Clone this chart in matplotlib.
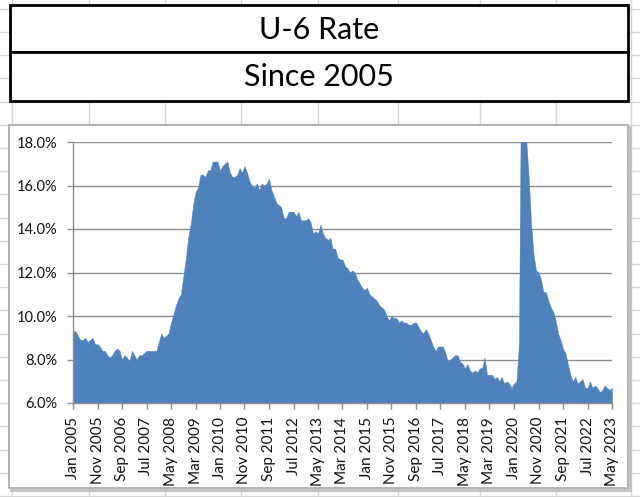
import matplotlib
matplotlib.use("Agg")
import matplotlib.pyplot as plt
from matplotlib.patches import Rectangle
import numpy as np

# ---------------- data (U-6 rate, monthly, %) ----------------
u6_2005 = [9.3, 9.3, 9.1, 8.9, 8.9, 9.0, 8.8, 8.9, 9.0, 8.7, 8.7, 8.6]
u6_2006 = [8.4, 8.4, 8.2, 8.1, 8.2, 8.4, 8.5, 8.4, 8.0, 8.2, 8.1, 7.9]
u6_2007 = [8.4, 8.2, 8.0, 8.2, 8.2, 8.3, 8.4, 8.4, 8.4, 8.4, 8.4, 8.8]
u6_2008 = [9.2, 9.0, 9.1, 9.2, 9.7, 10.1, 10.5, 10.8, 11.0, 11.8, 12.6, 13.6]
u6_2009 = [14.2, 15.1, 15.7, 15.9, 16.5, 16.5, 16.4, 16.7, 16.7, 17.1, 17.1, 17.1]
u6_2010 = [16.7, 16.9, 17.0, 17.1, 16.6, 16.4, 16.4, 16.5, 16.8, 16.6, 16.9, 16.6]
u6_2011 = [16.2, 16.0, 15.9, 16.1, 15.8, 16.1, 16.0, 16.1, 16.3, 15.8, 15.5, 15.2]
u6_2012 = [15.1, 15.0, 14.5, 14.5, 14.8, 14.8, 14.8, 14.6, 14.8, 14.4, 14.4, 14.4]
u6_2013 = [14.5, 14.3, 13.8, 13.9, 13.8, 14.2, 13.8, 13.6, 13.5, 13.6, 13.1, 13.1]
u6_2014 = [12.7, 12.6, 12.6, 12.3, 12.2, 12.0, 12.1, 12.0, 11.7, 11.5, 11.3, 11.2]
u6_2015 = [11.3, 11.0, 10.9, 10.8, 10.7, 10.5, 10.4, 10.3, 10.0, 9.8, 10.0, 9.9]
u6_2016 = [9.9, 9.7, 9.8, 9.7, 9.7, 9.6, 9.6, 9.7, 9.7, 9.5, 9.3, 9.2]
u6_2017 = [9.4, 9.2, 8.9, 8.6, 8.4, 8.6, 8.6, 8.6, 8.3, 7.9, 8.0, 8.1]
u6_2018 = [8.2, 8.2, 7.9, 7.8, 7.6, 7.8, 7.5, 7.4, 7.5, 7.4, 7.6, 7.6]
u6_2019 = [8.1, 7.3, 7.3, 7.3, 7.1, 7.2, 7.0, 7.2, 6.9, 7.0, 6.9, 6.7]
u6_2020 = [6.9, 7.0, 8.7, 22.9, 21.1, 18.1, 16.4, 14.2, 12.8, 12.1, 12.0, 11.7]
u6_2021 = [11.1, 11.1, 10.7, 10.4, 10.2, 9.8, 9.2, 8.9, 8.5, 8.3, 7.8, 7.3]
u6_2022 = [7.0, 7.2, 6.9, 7.0, 7.1, 6.7, 6.7, 7.0, 6.7, 6.8, 6.7, 6.5]
u6_2023 = [6.6, 6.8, 6.7, 6.6, 6.7]

u6_rate = (u6_2005 + u6_2006 + u6_2007 + u6_2008 + u6_2009 + u6_2010 +
           u6_2011 + u6_2012 + u6_2013 + u6_2014 + u6_2015 + u6_2016 +
           u6_2017 + u6_2018 + u6_2019 + u6_2020 + u6_2021 + u6_2022 + u6_2023)

x_tick_labels = ["Jan 2005", "Nov 2005", "Sep 2006", "Jul 2007", "May 2008",
                 "Mar 2009", "Jan 2010", "Nov 2010", "Sep 2011", "Jul 2012",
                 "May 2013", "Mar 2014", "Jan 2015", "Nov 2015", "Sep 2016",
                 "Jul 2017", "May 2018", "Mar 2019", "Jan 2020", "Nov 2020",
                 "Sep 2021", "Jul 2022", "May 2023"]
y_ticks = [6, 8, 10, 12, 14, 16, 18]

title_1 = "U-6 Rate"
title_2 = "Since 2005"

# ---------------- figure ----------------
FONT = ["Lato", "DejaVu Sans"]
plt.rcParams["font.family"] = FONT

W, H = 640, 497
fig = plt.figure(figsize=(W / 100, H / 100), dpi=100)

# spreadsheet background (pixel coordinates)
bg = fig.add_axes([0, 0, 1, 1], zorder=0)
bg.set_xlim(0, W)
bg.set_ylim(H, 0)
bg.axis("off")
grid_c = "#d6d6d6"
for gx in [12, 89, 164.5, 241, 317.5, 398, 479.5, 556, 631]:
    bg.axvline(gx, color=grid_c, lw=1)
for gy in np.arange(8.8, H, 23.2):
    bg.axhline(gy, color=grid_c, lw=1)

# title boxes
bg.add_patch(Rectangle((10, 5), 618, 47, facecolor="white", edgecolor="black", lw=2, zorder=3))
bg.add_patch(Rectangle((10, 52), 618, 48.5, facecolor="white", edgecolor="black", lw=2, zorder=3))
bg.text(319, 30, title_1, ha="center", va="center", fontsize=22, color="black", zorder=4)
bg.text(319, 77, title_2, ha="center", va="center", fontsize=22, color="black", zorder=4)

# chart area box
bg.add_patch(Rectangle((10.5, 126.5), 619, 363, facecolor="none", edgecolor="#c0c0c0", lw=2, zorder=2))
bg.add_patch(Rectangle((9, 124.5), 619, 363, facecolor="white", edgecolor="#a6a6a6", lw=1.2, zorder=3))

# plot area
left, right, top, bottom = 73, 612, 142, 403
ax = fig.add_axes([left / W, 1 - bottom / H, (right - left) / W, (bottom - top) / H], zorder=5)
ax.set_facecolor("none")

x = np.arange(len(u6_rate))
ax.fill_between(x, 6, u6_rate, color="#4F81BD", lw=0.3, edgecolor="#4F81BD", zorder=3)

ax.set_xlim(0, len(u6_rate) - 1)
ax.set_ylim(6, 18)
ax.set_yticks(y_ticks)
ax.set_yticklabels([f"{v:.1f}%" for v in y_ticks])
ax.set_xticks(np.arange(0, len(u6_rate), 10))
ax.set_xticklabels(x_tick_labels, rotation=90)

ax.set_axisbelow(True)
ax.grid(axis="y", color="#8c8c8c", lw=1)
ax.grid(axis="x", visible=False)
for s in ["top", "right"]:
    ax.spines[s].set_visible(False)
for s in ["left", "bottom"]:
    ax.spines[s].set_color("#8c8c8c")
    ax.spines[s].set_linewidth(1)
    ax.spines[s].set_zorder(4)

ax.tick_params(axis="y", length=4, width=1, color="#8c8c8c", pad=7,
               labelsize=10.5, labelcolor="#111111")
ax.tick_params(axis="x", length=4, width=1, color="#8c8c8c", pad=6,
               labelsize=11, labelcolor="#111111")

fig.savefig("out.png", dpi=100)
